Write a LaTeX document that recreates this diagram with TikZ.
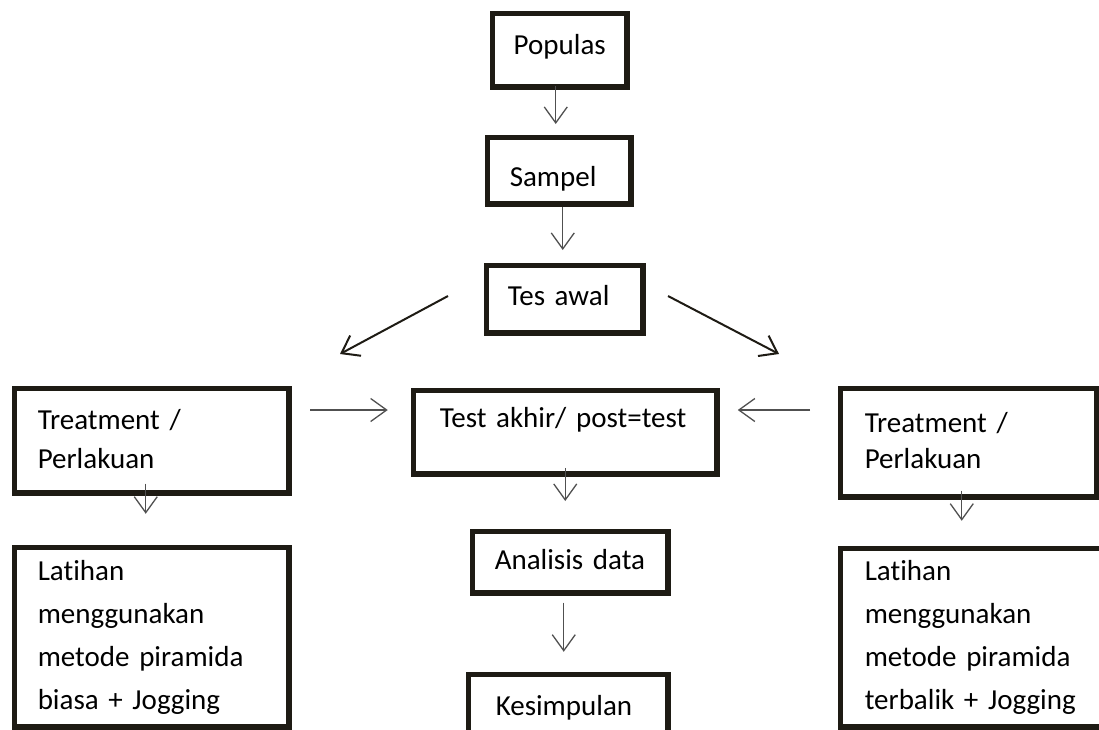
\documentclass[tikz,border=0pt]{standalone}
\usepackage{fontspec}
\setmainfont{Carlito}[Ligatures=NoCommon]
\usetikzlibrary{arrows.meta,calc}
\definecolor{garis}{RGB}{30,27,20}
\definecolor{abu}{RGB}{80,80,80}

\begin{document}
\begin{tikzpicture}[x=1pt,y=-1pt,
	kotak/.style={draw=garis,line width=5.5pt,anchor=north west,inner ysep=0pt,align=left,font=\fontsize{29}{43}\selectfont},
	panah/.style={draw=abu,line width=1.3pt,-{Straight Barb[length=16pt,width=23pt]}},
	miring/.style={panah,draw=garis,line width=2pt}]
				% \draw[help lines,step=50] (0,0) grid (1099,729);
				\useasboundingbox (0,0) rectangle (1099,729);
				\clip (0,0) rectangle (1099,729);
				\node[kotak,inner xsep=0pt,text width=134.5pt,align=center,text height=41.25pt,text depth=32.25pt] (pop) at (489.75,10.75) {Populas};
				\node[kotak,inner xsep=22.25pt,text width=99pt,text height=49.25pt,text depth=17.25pt] (smp) at (484.75,134.75) {Sampel};
				\node[kotak,inner xsep=21.25pt,text width=114pt,text height=39.75pt,text depth=27.75pt] (tes) at (483.75,262.75) {Tes awal};
				\node[kotak,inner xsep=23.25pt,text width=228pt,text height=41.25pt,text depth=63.25pt,font=\fontsize{29}{39}\selectfont] (trtL) at (11.75,385.75) {Treatment /\\Perlakuan};
				\node[kotak,inner xsep=26.25pt,text width=251pt,text height=37.25pt,text depth=46.25pt] (akhir) at (410.75,387.75) {Test akhir/ post=test};
				\node[kotak,inner xsep=24.25pt,text width=208pt,text height=44.25pt,text depth=64.25pt,font=\fontsize{29}{36}\selectfont] (trtR) at (837.75,385.75) {Treatment /\\Perlakuan};
				\node[kotak,inner xsep=23.25pt,text width=228pt,text height=33.25pt,text depth=146.25pt] (latL) at (11.75,544.75) {Latihan\\menggunakan\\metode piramida\\biasa + Jogging};
				\node[kotak,inner xsep=22.25pt,text width=151pt,text height=38.25pt,text depth=23.25pt] (anl) at (469.75,528.75) {Analisis data};
				\node[kotak,inner xsep=27.25pt,text width=145pt,text height=41.25pt,text depth=24.25pt] (kes) at (465.75,671.75) {Kesimpulan};
				\node[kotak,inner xsep=24.25pt,text width=216pt,text height=32.25pt,text depth=146.25pt] (latR) at (837.75,545.75) {Latihan\\menggunakan\\metode piramida\\terbalik + Jogging};
				\coordinate (kiriA) at (448,296);
				\coordinate (kiriB) at (340,354);
				\coordinate (kananA) at (668,296);
				\coordinate (kananB) at (779,354);
				\coordinate (masukL) at (310,410);
				\coordinate (masukR) at (810,410);
				\draw[panah,shorten >=6.75pt] ([xshift=-4pt,yshift=4pt]pop.south) -- ([xshift=-4pt,yshift=4pt]pop.south |- smp.north);
				\draw[panah,shorten >=12.75pt] ([xshift=3.5pt]smp.south) -- ([xshift=3.5pt]smp.south |- tes.north);
				\draw[miring] (kiriA) -- (kiriB);
				\draw[miring] (kananA) -- (kananB);
				\draw[panah,shorten >=23pt] (masukL) -- (masukL -| akhir.west);
				\draw[panah,shorten >=18pt] (masukR) -- (masukR -| akhir.east);
				\draw[panah,shorten >=18.75pt] ([xshift=-6pt,yshift=12.25pt]trtL.south) -- ([xshift=-6pt,yshift=12.25pt]trtL.south |- latL.north);
				\draw[panah,shorten >=15.75pt] ([xshift=-7pt,yshift=9.25pt]trtR.south) -- ([xshift=-7pt,yshift=9.25pt]trtR.south |- latR.north);
				\draw[panah,shorten >=18.75pt] ([yshift=9pt]akhir.south) -- ([yshift=9pt]akhir.south |- anl.north);
				\draw[panah,shorten >=26.75pt] ([xshift=-6.5pt,yshift=-6.75pt]anl.south) -- ([xshift=-6.5pt,yshift=-6.75pt]anl.south |- kes.north);
				\end{tikzpicture}
\end{document}
